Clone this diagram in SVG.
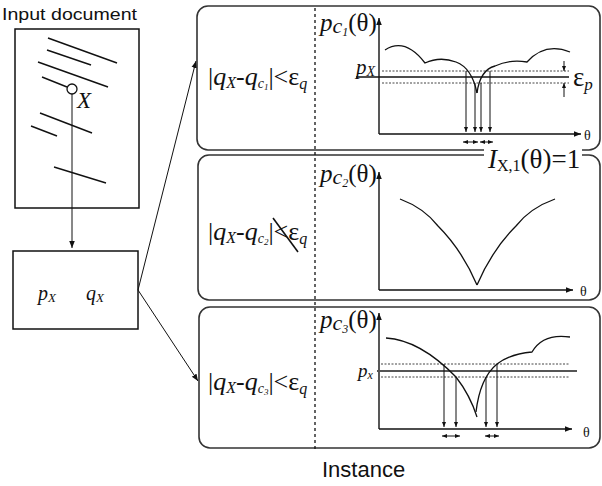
<svg xmlns="http://www.w3.org/2000/svg" width="602" height="486" viewBox="0 0 602 486">
<style>
.ln{stroke:#111;stroke-width:1.4;fill:none}
.ax{stroke:#111;stroke-width:1.4;fill:none}
.cv{stroke:#111;stroke-width:1.3;fill:none}
.dot{stroke:#444;stroke-width:1;stroke-dasharray:2,1.5;fill:none}
.panel{stroke:#333;stroke-width:1.6;fill:none}
.va{stroke:#111;stroke-width:1;fill:none}
.sans{font-family:"Liberation Sans",Arial,sans-serif;fill:#111}
.serif{font-family:"Liberation Serif","Times New Roman",serif;fill:#111}
.it{font-style:italic}
</style>
<defs>
<marker id="ah" viewBox="0 0 10 10" refX="10" refY="5" markerWidth="7" markerHeight="7" markerUnits="userSpaceOnUse" orient="auto">
<path d="M0,1 L10,5 L0,9 Z" fill="#111"/>
</marker>
<marker id="ahs" viewBox="0 0 10 10" refX="10" refY="5" markerWidth="5" markerHeight="5" markerUnits="userSpaceOnUse" orient="auto-start-reverse">
<path d="M0,1 L10,5 L0,9 Z" fill="#111"/>
</marker>
</defs>
<rect width="602" height="486" fill="#fff"/>

<g id="input-document">
<text class="sans" x="2" y="20" font-size="17" textLength="135" lengthAdjust="spacingAndGlyphs">Input document</text>
<rect x="15" y="29" width="124" height="179" fill="none" stroke="#111" stroke-width="1.5"/>
<line class="ln" x1="48" y1="38" x2="117" y2="63"/>
<line class="ln" x1="47" y1="50" x2="91" y2="65"/>
<line class="ln" x1="38" y1="62" x2="108" y2="87"/>
<line class="ln" x1="42" y1="77" x2="67" y2="87"/>
<circle cx="72" cy="89" r="5" fill="none" stroke="#111" stroke-width="1.3"/>
<text class="serif it" x="77" y="108" font-size="23">X</text>
<line class="ln" x1="40" y1="113" x2="92" y2="133"/>
<line class="ln" x1="31" y1="126" x2="57" y2="136"/>
<line class="ln" x1="54" y1="167" x2="106" y2="183"/>
</g>

<g id="feature-box">
<rect x="13" y="251" width="125" height="78" fill="none" stroke="#111" stroke-width="1.5"/>
<text class="serif it" x="38" y="300" font-size="20">p<tspan font-size="13" dy="2">X</tspan></text>
<text class="serif it" x="86" y="300" font-size="20">q<tspan font-size="13" dy="2">X</tspan></text>
</g>

<g id="connectors">
<line class="va" x1="72" y1="94" x2="72" y2="248" marker-end="url(#ah)"/>
<line class="va" x1="138" y1="290" x2="196" y2="61" marker-end="url(#ah)"/>
<line class="va" x1="138" y1="290" x2="198" y2="381" marker-end="url(#ah)"/>
</g>

<g id="panels">
<rect class="panel" x="197" y="6" width="403" height="144" rx="11"/>
<rect class="panel" x="198" y="155" width="402" height="145" rx="11"/>
<rect class="panel" x="199" y="307" width="401" height="141" rx="11"/>
<line x1="315" y1="8" x2="315" y2="450" stroke="#111" stroke-width="1.3" stroke-dasharray="3,3"/>
<rect x="484" y="146" width="98" height="12" fill="#fff"/>
<text class="serif" x="488" y="168" font-size="27"><tspan class="it">I</tspan><tspan font-size="16" dy="3">X,1</tspan><tspan dy="-3">(θ)=1</tspan></text>
</g>

<g id="panel-1">
<text class="serif" x="208" y="85" font-size="26">|<tspan class="it">q</tspan><tspan class="it" font-size="16" dy="3">X</tspan><tspan dy="-3">-</tspan><tspan class="it">q</tspan><tspan class="it" font-size="14" dy="3">c</tspan><tspan class="it" font-size="9" dy="2">1</tspan><tspan dy="-5">|&lt;ε</tspan><tspan class="it" font-size="16" dy="4">q</tspan></text>
<text class="serif" x="320" y="31" font-size="25"><tspan class="it">p</tspan><tspan class="it" font-size="22" dy="2">c</tspan><tspan class="it" font-size="12" dy="3">1</tspan><tspan dy="-5">(θ)</tspan></text>
<line class="ax" x1="379" y1="134" x2="379" y2="18" marker-end="url(#ah)"/>
<line class="ax" x1="379" y1="134" x2="581" y2="134" marker-end="url(#ah)"/>
<text class="serif" x="584" y="140" font-size="14">θ</text>
<text class="serif it" x="356" y="74" font-size="21">p<tspan font-size="14" dy="2">X</tspan></text>
<line x1="356" y1="77" x2="569" y2="77" stroke="#111" stroke-width="1.3"/>
<line class="dot" x1="382" y1="71" x2="569" y2="71"/>
<line class="dot" x1="382" y1="83" x2="569" y2="83"/>
<path class="cv" d="M385,50 Q405,37 425,63 Q440,56 456,62 Q472,68 477,93"/>
<path class="cv" d="M477,93 Q480,70 495,66 Q510,59 527,62 Q545,42 570,52"/>
<line class="va" x1="466" y1="71" x2="466" y2="132" marker-end="url(#ahs)"/>
<line class="va" x1="475" y1="83" x2="475" y2="132" marker-end="url(#ahs)"/>
<line class="va" x1="481" y1="83" x2="481" y2="132" marker-end="url(#ahs)"/>
<line class="va" x1="490" y1="71" x2="490" y2="132" marker-end="url(#ahs)"/>
<line class="va" x1="463" y1="142" x2="478" y2="142" marker-start="url(#ahs)" marker-end="url(#ahs)"/>
<line class="va" x1="480" y1="142" x2="493" y2="142" marker-start="url(#ahs)" marker-end="url(#ahs)"/>
<line class="va" x1="564" y1="61" x2="564" y2="71" marker-end="url(#ahs)"/>
<line class="va" x1="564" y1="97" x2="564" y2="83" marker-end="url(#ahs)"/>
<text class="serif" x="573" y="86" font-size="27">ε<tspan class="it" font-size="17" dy="4">p</tspan></text>
</g>

<g id="panel-2">
<text class="serif" x="208" y="240" font-size="26">|<tspan class="it">q</tspan><tspan class="it" font-size="16" dy="3">X</tspan><tspan dy="-3">-</tspan><tspan class="it">q</tspan><tspan class="it" font-size="14" dy="3">c</tspan><tspan class="it" font-size="9" dy="2">2</tspan><tspan dy="-5">|&lt;ε</tspan><tspan class="it" font-size="16" dy="4">q</tspan></text>
<line x1="273" y1="218" x2="298" y2="252" stroke="#111" stroke-width="1.6"/>
<text class="serif" x="320" y="182" font-size="25"><tspan class="it">p</tspan><tspan class="it" font-size="22" dy="2">c</tspan><tspan class="it" font-size="12" dy="3">2</tspan><tspan dy="-5">(θ)</tspan></text>
<line class="ax" x1="379" y1="290" x2="379" y2="172" marker-end="url(#ah)"/>
<line class="ax" x1="379" y1="290" x2="573" y2="290" marker-end="url(#ah)"/>
<text class="serif" x="580" y="296" font-size="14">θ</text>
<path class="cv" d="M400,199 Q424,208 438,226 Q462,250 477,285"/>
<path class="cv" d="M477,285 Q492,250 516,226 Q530,208 555,199"/>
</g>

<g id="panel-3">
<text class="serif" x="208" y="390" font-size="26">|<tspan class="it">q</tspan><tspan class="it" font-size="16" dy="3">X</tspan><tspan dy="-3">-</tspan><tspan class="it">q</tspan><tspan class="it" font-size="14" dy="3">c</tspan><tspan class="it" font-size="9" dy="2">3</tspan><tspan dy="-5">|&lt;ε</tspan><tspan class="it" font-size="16" dy="4">q</tspan></text>
<text class="serif" x="320" y="328" font-size="25"><tspan class="it">p</tspan><tspan class="it" font-size="22" dy="2">c</tspan><tspan class="it" font-size="12" dy="3">3</tspan><tspan dy="-5">(θ)</tspan></text>
<line class="ax" x1="379" y1="429" x2="379" y2="313" marker-end="url(#ah)"/>
<line class="ax" x1="379" y1="429" x2="572" y2="429" marker-end="url(#ah)"/>
<text class="serif" x="583" y="437" font-size="14">θ</text>
<text class="serif it" x="358" y="377" font-size="19">p<tspan font-size="12" dy="2">x</tspan></text>
<line x1="377" y1="371" x2="577" y2="371" stroke="#555" stroke-width="1.8"/>
<line class="dot" x1="381" y1="364" x2="569" y2="364"/>
<line class="dot" x1="381" y1="377" x2="569" y2="377"/>
<path class="cv" d="M386,338 Q420,340 456,377 Q470,395 477,417"/>
<path class="cv" d="M476,412 Q480,378 497,364 Q510,354 532,352 Q543,333 570,337"/>
<line class="va" x1="444" y1="364" x2="444" y2="427" marker-end="url(#ahs)"/>
<line class="va" x1="456" y1="377" x2="456" y2="427" marker-end="url(#ahs)"/>
<line class="va" x1="486" y1="377" x2="486" y2="427" marker-end="url(#ahs)"/>
<line class="va" x1="497" y1="364" x2="497" y2="427" marker-end="url(#ahs)"/>
<line class="va" x1="442" y1="436" x2="460" y2="436" marker-start="url(#ahs)" marker-end="url(#ahs)"/>
<line class="va" x1="485" y1="436" x2="499" y2="436" marker-start="url(#ahs)" marker-end="url(#ahs)"/>
</g>

<text class="sans" x="322" y="477" font-size="22">Instance</text>
</svg>
